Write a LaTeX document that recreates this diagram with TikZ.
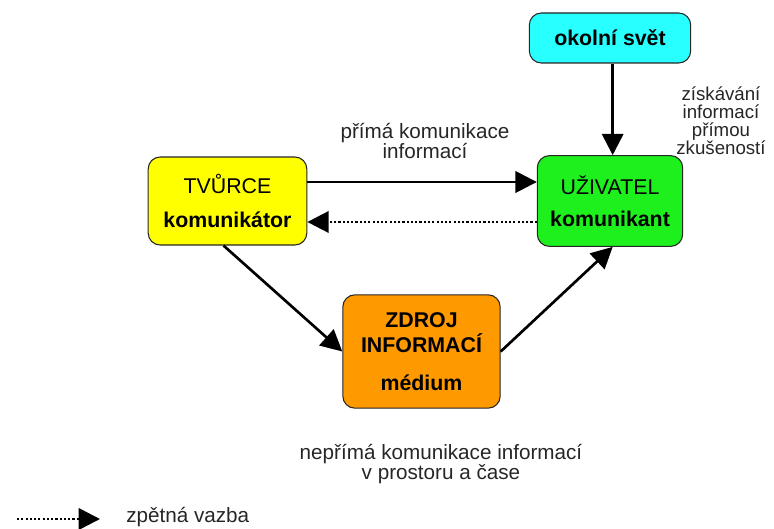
\documentclass[tikz,border=0pt]{standalone}
\usepackage{fontspec}
\setmainfont{Liberation Sans}
\usetikzlibrary{arrows.meta}
\definecolor{boxyellow}{RGB}{255,255,0}
\definecolor{boxgreen}{RGB}{30,240,30}
\definecolor{boxcyan}{RGB}{40,255,255}
\definecolor{boxorange}{RGB}{255,153,0}
\tikzset{
  box/.style      = {shape=rectangle, rounded corners=9pt,
                     draw=black!85, line width=0.8pt, align=center,
                     inner sep=0pt, font=\fontsize{16}{19}\selectfont},
  creator/.style  = {box, fill=boxyellow, minimum width=119pt, minimum height=66pt},
  user/.style     = {box, fill=boxgreen, minimum width=109pt, minimum height=68pt},
  world/.style    = {box, fill=boxcyan, minimum width=121pt, minimum height=37.5pt},
  source/.style   = {box, fill=boxorange, minimum width=118pt, minimum height=85pt},
  caption/.style  = {align=center, inner sep=0pt, text=black!85,
                     font=\fontsize{15.5}{14}\selectfont},
  flow/.style     = {line width=2pt, -{Triangle[length=16pt,width=16pt]}},
  feedback/.style = {flow, dash pattern=on 1.6pt off 1.6pt}
}

\begin{document}
\begin{tikzpicture}[x=0.75pt, y=-0.75pt]
  \useasboundingbox (0,0) rectangle (774,528);

  \node[world]   (okoli)   at (610,38)      {\bfseries okolní svět};
  \node[creator] (tvurce)  at (227.5,201)   {TVŮRCE\\[7pt]\bfseries komunikátor};
  \node[user]    (uziv)    at (610,201)     {UŽIVATEL\\[5pt]\bfseries komunikant};
  \node[source]  (zdroj)   at (421.5,351.5) {\bfseries ZDROJ\\\bfseries INFORMACÍ\\[9pt]\bfseries médium};

  \node[caption] (prima)   at (425,141)     {přímá komunikace\\informací};
  \node[caption, font=\fontsize{14}{13.5}\selectfont]
                 (zkusen)  at (721,121)     {získávání\\informací\\přímou\\zkušeností};
  \node[caption] (neprima) at (441,464)     {nepřímá komunikace informací\\v prostoru a čase};

  \draw[flow] ([xshift=2pt]okoli.south) -- ([xshift=2pt]uziv.north);
  \draw[flow] ([yshift=14.25pt]tvurce.east) -- ([yshift=14.25pt]uziv.west);
  \draw[feedback] ([yshift=-15.75pt]uziv.west) -- ([yshift=-15.75pt]tvurce.east);
  \draw[flow] ([xshift=-3pt]tvurce.south) -- (zdroj.west);
  \draw[flow] (zdroj.east) -- ([xshift=2pt]uziv.south);

  \coordinate (legfrom) at (17,519);
  \coordinate (legto)   at (100,519);
  \draw[feedback] (legfrom) -- (legto);
  \node[caption, anchor=west] (legtext) at (126,517) {zpětná vazba};
\end{tikzpicture}
\end{document}
